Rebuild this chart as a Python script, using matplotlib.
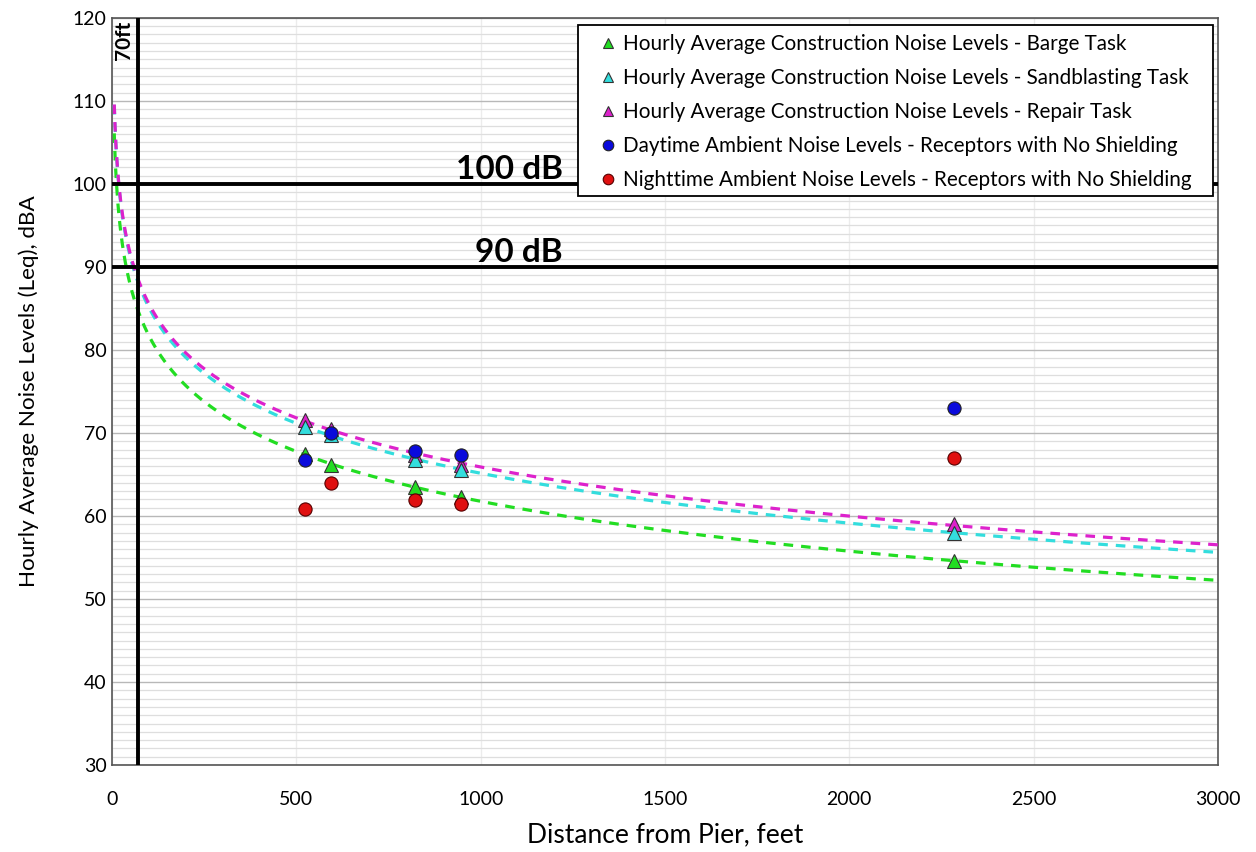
import numpy as np
import matplotlib
matplotlib.use("Agg")
import matplotlib.pyplot as plt
from matplotlib.ticker import MultipleLocator
from matplotlib.patches import Rectangle

plt.rcParams['font.family'] = ['Lato', 'DejaVu Sans']

# ---- data ----
distance_ft = [523, 594, 822, 947, 2284]
barge_dba = [67.5, 66.1, 63.5, 62.3, 54.6]
sandblast_dba = [70.7, 69.8, 66.8, 65.6, 58.0]
repair_dba = [71.6, 70.5, 67.3, 66.2, 59.0]
day_ambient_dba = [66.7, 70.0, 67.8, 67.4, 73.0]
night_ambient_dba = [60.9, 64.0, 61.9, 61.5, 67.0]

labels = [
    "Hourly Average Construction Noise Levels - Barge Task",
    "Hourly Average Construction Noise Levels - Sandblasting Task",
    "Hourly Average Construction Noise Levels - Repair Task",
    "Daytime Ambient Noise Levels - Receptors with No Shielding",
    "Nighttime Ambient Noise Levels - Receptors with No Shielding",
]
ref_lines_db = [100, 90]
ref_line_labels = ["100 dB", "90 dB"]
ref_distance_ft = 70
ref_distance_label = "70ft"
trend_range_ft = (6, 3000)

col_green = "#22dd22"
col_cyan = "#33dddd"
col_mag = "#dd22cc"
col_blue = "#0a0adc"
col_red = "#e01010"

fig = plt.figure(figsize=(12.56, 8.52), dpi=100)
ax = fig.add_axes([0.0892, 0.102, 0.8805, 0.877])

ax.set_xlim(0, 3000)
ax.set_ylim(30, 120)
ax.xaxis.set_major_locator(MultipleLocator(500))
ax.yaxis.set_major_locator(MultipleLocator(10))
ax.yaxis.set_minor_locator(MultipleLocator(1))
ax.grid(True, which='major', axis='y', color='#b8b8b8', lw=1.0, zorder=0)
ax.grid(True, which='minor', axis='y', color='#dedede', lw=0.9, zorder=0)
ax.grid(True, which='major', axis='x', color='#ececec', lw=1.0, zorder=0)
ax.tick_params(which='minor', length=0)
ax.tick_params(which='major', length=0, labelsize=14)
ax.tick_params(axis='y', pad=4)
ax.tick_params(axis='x', pad=19)
for s in ax.spines.values():
    s.set_color('#555555')
    s.set_linewidth(1.2)

# logarithmic trendlines (as in the spreadsheet) fitted to each task series
dd = np.linspace(trend_range_ft[0], trend_range_ft[1], 1500)
for vals, c in [(barge_dba, col_green), (sandblast_dba, col_cyan), (repair_dba, col_mag)]:
    a, b = np.polyfit(np.log(distance_ft), vals, 1)
    ax.plot(dd, a * np.log(dd) + b, ls=(0, (3, 2.5)), color=c, lw=2.3, zorder=3)

# reference lines
for v in ref_lines_db:
    ax.axhline(v, color='black', lw=2.8, zorder=4)
ax.axvline(ref_distance_ft, color='black', lw=2.8, zorder=4)
for v, t in zip(ref_lines_db, ref_line_labels):
    ax.text(1223, v + 0.6, t, ha='right', va='baseline', fontsize=24,
            fontweight='bold', zorder=5)
ax.text(33, 119.6, ref_distance_label, rotation=90, ha='center', va='top',
        fontsize=15, fontweight='bold', zorder=5)

ms = 9.5
h_mag, = ax.plot(distance_ft, repair_dba, '^', color=col_mag, mec='#333333', mew=0.8, ms=ms, ls='none', zorder=6)
h_cyan, = ax.plot(distance_ft, sandblast_dba, '^', color=col_cyan, mec='#333333', mew=0.8, ms=ms, ls='none', zorder=6)
h_green, = ax.plot(distance_ft, barge_dba, '^', color=col_green, mec='#333333', mew=0.8, ms=ms, ls='none', zorder=6)
h_blue, = ax.plot(distance_ft, day_ambient_dba, 'o', color=col_blue, mec='#222222', mew=0.8, ms=ms, ls='none', zorder=7)
h_red, = ax.plot(distance_ft, night_ambient_dba, 'o', color=col_red, mec='#550000', mew=0.8, ms=ms, ls='none', zorder=7)

# legend box frame
ax.add_patch(Rectangle((0.4213, 0.7617), 0.5742, 0.2289, transform=ax.transAxes,
                       facecolor='white', edgecolor='black', lw=1.3, zorder=9))
leg = ax.legend([h_green, h_cyan, h_mag, h_blue, h_red], labels,
                loc='upper left', bbox_to_anchor=(0.4391, 0.9786),
                borderaxespad=0, borderpad=0,
                fontsize=14.9, frameon=False,
                handlelength=1.0, handletextpad=0.23,
                labelspacing=0.68, markerscale=0.8)
leg.set_zorder(10)

ax.set_xlabel("Distance from Pier, feet", fontsize=19, labelpad=10)
ax.set_ylabel("Hourly Average Noise Levels (Leq), dBA", fontsize=16.2, labelpad=24)

fig.savefig("out.png", dpi=100)
